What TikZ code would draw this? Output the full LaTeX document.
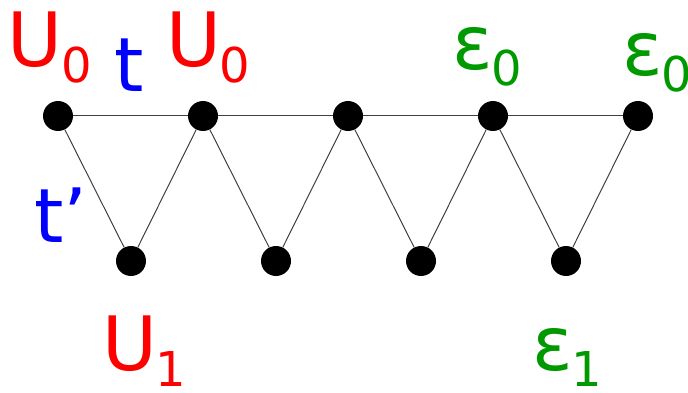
\documentclass[tikz,border=0pt]{standalone}
\usepackage{fontspec}
\setmainfont{DejaVu Sans}
\definecolor{lred}{HTML}{FF0000}
\definecolor{lblue}{HTML}{0000FF}
\definecolor{lgreen}{HTML}{009900}
\newcommand{\mysub}[1]{\kern-1pt\raisebox{-16pt}{\fontsize{48}{48}\selectfont #1}}
\begin{document}
\begin{tikzpicture}[x=1pt,y=-1pt,
  dot/.style={circle,fill=black,minimum size=30pt,inner sep=0pt},
  edge/.style={draw=black!75,line width=1pt},
  lab/.style={inner sep=0pt,outer sep=0pt,anchor=base west,font=\fontsize{75}{90}\selectfont}]
\useasboundingbox (0,0) rectangle (688,393);
\node[dot] (a1) at (58,116) {};
\node[dot] (a2) at (203,116) {};
\node[dot] (a3) at (348,116) {};
\node[dot] (a4) at (493,116) {};
\node[dot] (a5) at (638,116) {};
\node[dot] (b1) at (131,261) {};
\node[dot] (b2) at (276,261) {};
\node[dot] (b3) at (421,261) {};
\node[dot] (b4) at (566,261) {};
\draw[edge] (a1) -- (a2) -- (a3) -- (a4) -- (a5);
\draw[edge] (a1) -- (b1) -- (a2) -- (b2) -- (a3) -- (b3) -- (a4) -- (b4) -- (a5);
\node[lab,text=lred] (u0a) at (8,67) {U\mysub{0}};
\node[lab,text=lblue] (t) at (114,92) {t};
\node[lab,text=lred] (u0b) at (166,67) {U\mysub{0}};
\node[lab,text=lgreen] (e0a) at (452,70) {ε\mysub{0}};
\node[lab,text=lgreen] (e0b) at (622,76) {ε\mysub{0}};
\node[lab,text=lblue] (tp) at (34,242) {t’};
\node[lab,text=lred] (u1) at (102,370) {U\mysub{1}};
\node[lab,text=lgreen] (e1) at (532,370) {ε\mysub{1}};
\end{tikzpicture}
\end{document}
